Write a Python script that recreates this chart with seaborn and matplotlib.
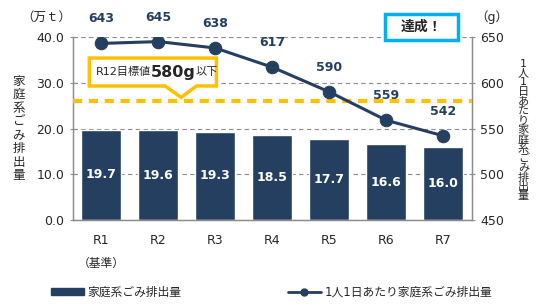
import numpy as np
import pandas as pd
import matplotlib
matplotlib.use("Agg")
import matplotlib.pyplot as plt
from matplotlib.patches import Polygon, Rectangle, Patch
from matplotlib.lines import Line2D
import seaborn as sns

years = ["R1", "R2", "R3", "R4", "R5", "R6", "R7"]
total_waste = [19.7, 19.6, 19.3, 18.5, 17.7, 16.6, 16.0]   # 万t
per_capita = [643, 645, 638, 617, 590, 559, 542]          # g/人日
target = 580

NAVY = "#243F60"
GOLD = "#FFC000"
CYAN = "#00B0F0"
GRID = "#8C8C8C"

sns.set_theme(style="white")
plt.rcParams["font.family"] = ["DejaVu Sans", "Noto Sans CJK JP"]

df = pd.DataFrame({"year": years, "total": total_waste, "per_capita": per_capita})

fig = plt.figure(figsize=(5.43, 3.06), dpi=100)
ax = fig.add_axes([0.134, 0.281, 0.735, 0.598])

sns.barplot(data=df, x="year", y="total", color=NAVY, saturation=1, width=0.7, ax=ax, zorder=2)
ax.set_ylim(0, 40)
ax.set_xlim(-0.5, len(years) - 0.5)
ax.set_yticks(np.arange(0, 41, 10))
ax.set_yticklabels([f"{v:.1f}" for v in np.arange(0, 41, 10)], fontsize=9)
ax.yaxis.grid(True, linestyle=(0, (4, 3)), color=GRID, linewidth=0.8)
ax.set_axisbelow(True)
ax.set_xlabel("")
ax.set_ylabel("")
ax.tick_params(axis="x", length=0, labelsize=9, pad=10)
ax.set_xticks(np.arange(-0.5, len(years), 1), minor=True)
ax.tick_params(axis="x", which="minor", length=4, color=GRID, width=0.8, direction="out")
ax.tick_params(axis="y", length=5, color=GRID, direction="inout", width=0.8)
for s in ["left", "bottom", "right"]:
    ax.spines[s].set_color(GRID)
    ax.spines[s].set_linewidth(0.9)
ax.spines["top"].set_visible(False)

for i, v in enumerate(total_waste):
    ax.text(i, v / 2, f"{v:.1f}", ha="center", va="center", color="white",
            fontsize=9, fontweight="bold")

ax.text(0, -0.2, "（基準）", transform=ax.get_xaxis_transform(), ha="center",
        va="top", fontsize=8.5)

# callout box for the target
callout = Polygon([(-0.21, 35.4), (2.02, 35.4), (2.02, 29.3), (1.67, 29.3), (1.40, 26.8),
                   (1.12, 29.3), (-0.21, 29.3)], closed=True, facecolor="white",
                  edgecolor=GOLD, linewidth=2.5, zorder=5)
ax.add_patch(callout)
t1 = ax.text(-0.1, 32.35, "R12目標値", ha="left", va="center", fontsize=8, zorder=6)
t2 = ax.annotate("580g", xy=(1, 0.5), xycoords=t1, ha="left", va="center",
                 fontsize=11.5, fontweight="bold", zorder=6)
ax.annotate("以下", xy=(1, 0.5), xycoords=t2, ha="left", va="center", fontsize=8, zorder=6)

ax2 = ax.twinx()
x_pos = np.arange(len(years))
sns.lineplot(x=x_pos, y=per_capita, ax=ax2, color=NAVY, linewidth=2.2, marker="o",
             markersize=9, markeredgecolor=NAVY, zorder=4)
ax2.axhline(target, color=GOLD, linewidth=3, linestyle=(0, (2.2, 1.6)), zorder=3)
ax2.set_ylim(450, 650)
ax2.set_yticks(np.arange(450, 651, 50))
ax2.tick_params(axis="y", labelsize=9, length=5, color=GRID, direction="inout", width=0.8)
ax2.spines["top"].set_visible(False)
for s in ["left", "bottom", "right"]:
    ax2.spines[s].set_color(GRID)
    ax2.spines[s].set_linewidth(0.9)
ax2.set_xlim(-0.5, len(years) - 0.5)
for i, v in enumerate(per_capita):
    ax2.annotate(str(v), (i, v), xytext=(0, 13), textcoords="offset points", ha="center",
                 va="bottom", color=NAVY, fontsize=9, fontweight="bold")

# axis titles
fig.text(0.085, 0.945, "（万ｔ）", ha="center", va="center", fontsize=9)
fig.text(0.905, 0.945, "（g）", ha="center", va="center", fontsize=9)
fig.text(0.034, 0.58, "\n".join("家庭系ごみ排出量"), ha="center", va="center",
         fontsize=9, linespacing=1.05)
fig.text(0.964, 0.575, "\n".join("1人1日あたり家庭系ごみ排出量"), ha="center", va="center",
         fontsize=8, linespacing=0.93)

fig.patches.append(Rectangle((0.709, 0.869), 0.134, 0.085, transform=fig.transFigure,
                             facecolor="white", edgecolor=CYAN, linewidth=2.5, zorder=10))
fig.text(0.776, 0.912, "達成！", ha="center", va="center", fontsize=10, fontweight="bold",
         zorder=11)

handles = [Patch(facecolor=NAVY, edgecolor=NAVY),
           Line2D([0], [0], color=NAVY, linewidth=2, marker="o", markersize=5)]
fig.legend(handles, ["家庭系ごみ排出量", "1人1日あたり家庭系ごみ排出量"], loc="center",
           bbox_to_anchor=(0.5, 0.045), ncol=2, frameon=False, fontsize=8.5,
           columnspacing=9, handlelength=2.8, handleheight=0.6, handletextpad=0.3)

fig.savefig("out.png", dpi=100)
